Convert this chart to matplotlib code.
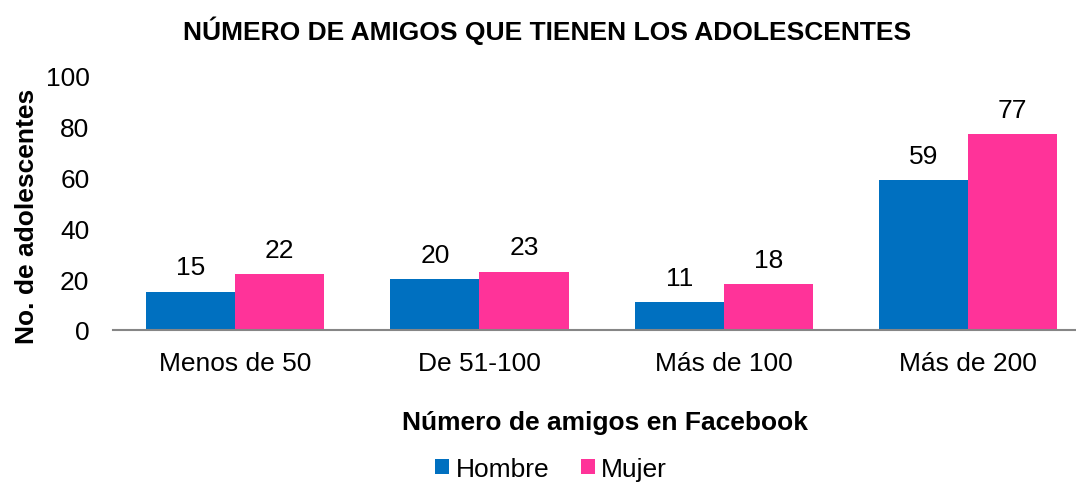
import matplotlib.pyplot as plt
import numpy as np

plt.rcParams['font.family'] = ['Liberation Sans', 'DejaVu Sans']

categorias = ["Menos de 50", "De 51-100", "Más de 100", "Más de 200"]
hombre = [15, 20, 11, 59]
mujer = [22, 23, 18, 77]

fig = plt.figure(figsize=(10.76, 4.85), dpi=100)
ax = fig.add_axes([113 / 1076, 154 / 485, 963 / 1076, 254 / 485])

x = np.arange(len(categorias))
w = 0.365
b1 = ax.bar(x - w / 2, hombre, w, color="#0070C0", label="Hombre")
b2 = ax.bar(x + w / 2, mujer, w, color="#FF3399", label="Mujer")

# etiquetas de valores
for bars in (b1, b2):
    for bar in bars:
        h = bar.get_height()
        ax.annotate(str(h), (bar.get_x() + bar.get_width() / 2, h),
                    xytext=(0, 9), textcoords="offset points",
                    ha="center", va="bottom", fontsize=19)

ax.set_xlim(-0.5, 3.442)
ax.set_ylim(0, 100)
ax.set_yticks(range(0, 101, 20))
ax.set_xticks(x)
ax.set_xticklabels(categorias)
ax.tick_params(axis="both", length=0, labelsize=19)
ax.tick_params(axis="x", pad=15)
ax.tick_params(axis="y", pad=17)

for s in ("top", "right", "left"):
    ax.spines[s].set_visible(False)
ax.spines["bottom"].set_color("#868686")
ax.spines["bottom"].set_linewidth(1.5)

fig.text(547 / 1076, 1 - 31 / 485, "NÚMERO DE AMIGOS QUE TIENEN LOS ADOLESCENTES",
         fontsize=19, fontweight="bold", ha="center", va="center")
fig.text(605 / 1076, 1 - 423 / 485, "Número de amigos en Facebook",
         fontsize=19, fontweight="bold", ha="center", va="center")
fig.text(27 / 1076, 1 - 216 / 485, "No. de adolescentes", rotation=90,
         fontsize=19, fontweight="bold", ha="center", va="center")

fig.legend(loc="center", bbox_to_anchor=(551 / 1076, 1 - 470 / 485), ncol=2,
           frameon=False, fontsize=19, handlelength=0.53, handleheight=0.53,
           handletextpad=0.23, columnspacing=1.2, borderpad=0)

fig.savefig("out.png", dpi=100)
